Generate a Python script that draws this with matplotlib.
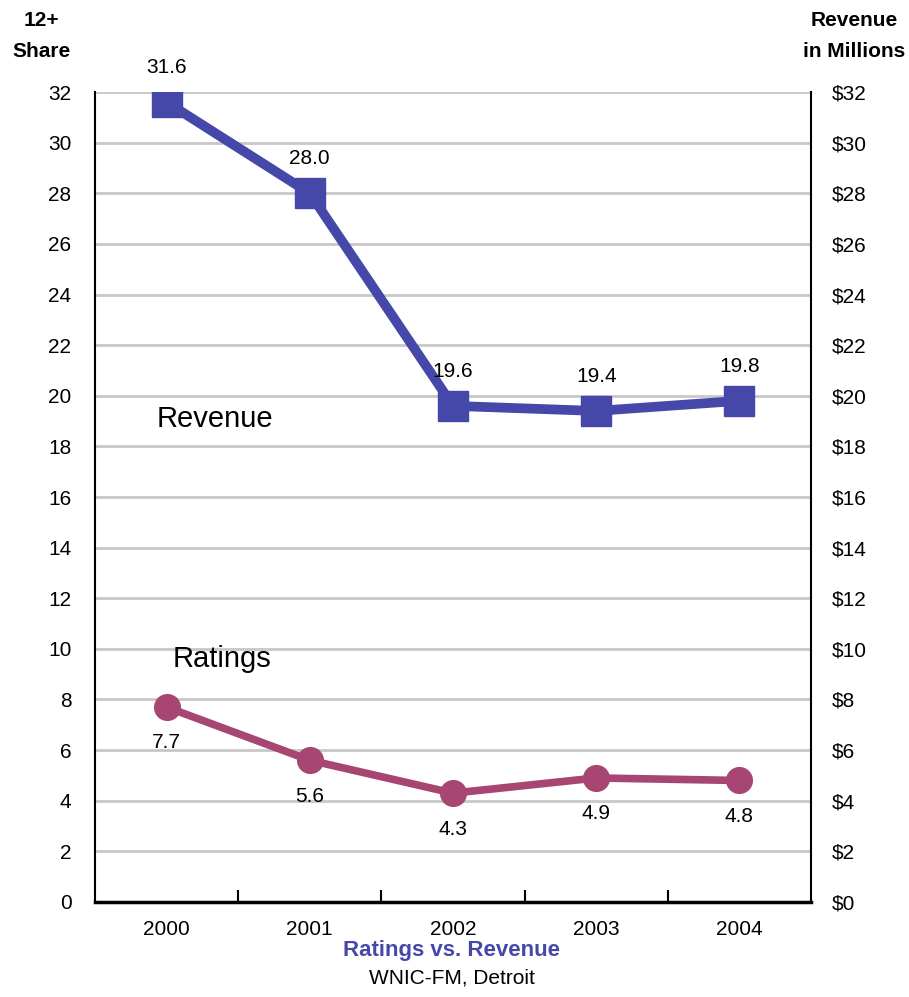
import matplotlib
matplotlib.use("Agg")
import matplotlib.pyplot as plt
from matplotlib import font_manager

years = ["2000", "2001", "2002", "2003", "2004"]
revenue = [31.6, 28.0, 19.6, 19.4, 19.8]
ratings = [7.7, 5.6, 4.3, 4.9, 4.8]
y_ticks = list(range(0, 33, 2))

# narrow sans if available, else regular
names = {f.name for f in font_manager.fontManager.ttflist}
if "Liberation Sans Narrow" in names:
    plt.rcParams["font.family"] = ["Liberation Sans Narrow", "DejaVu Sans"]
else:
    plt.rcParams["font.family"] = ["Liberation Sans", "DejaVu Sans"]

REV_COLOR = "#4547A9"
RAT_COLOR = "#A84673"
FS = 15

fig = plt.figure(figsize=(9.09, 9.97), dpi=100)
ax = fig.add_axes([0.1045, 0.0953, 0.7877, 0.8124])
x = list(range(len(years)))

ax.plot(x, revenue, color=REV_COLOR, lw=7, marker="s", ms=21,
        solid_joinstyle="miter", zorder=3)
ax.plot(x, ratings, color=RAT_COLOR, lw=5.5, marker="o", ms=18.5, zorder=3)

for xi, v in zip(x, revenue):
    ax.annotate(f"{v:.1f}", (xi, v), xytext=(0, 18), textcoords="offset points",
                ha="center", va="bottom", fontsize=FS)
for xi, v in zip(x, ratings):
    ax.annotate(f"{v:.1f}", (xi, v), xytext=(0, -19), textcoords="offset points",
                ha="center", va="top", fontsize=FS)

ax.text(0.34, 19.1, "Revenue", fontsize=21, ha="center", va="center")
ax.text(0.39, 9.6, "Ratings", fontsize=21, ha="center", va="center")

ax.set_xlim(-0.5, len(years) - 0.5)
ax.set_ylim(0, 32)
ax.set_yticks(y_ticks)
ax.set_yticklabels([str(t) for t in y_ticks], fontsize=FS)
ax.tick_params(axis="y", length=0, pad=17)
ax.set_xticks([i + 0.5 for i in range(len(years) - 1)])
ax.set_xticklabels([])
ax.set_xticks(x, minor=True)
ax.set_xticklabels(years, minor=True, fontsize=FS)
ax.tick_params(axis="x", which="major", direction="in", length=9, width=1.5)
ax.tick_params(axis="x", which="minor", length=0, pad=13)
ax.grid(axis="y", color="#c8c8c8", lw=2)
ax.set_axisbelow(True)
for side in ["left", "right"]:
    ax.spines[side].set_linewidth(1.5)
ax.spines["bottom"].set_linewidth(2.5)
ax.spines["top"].set_visible(False)

ax2 = ax.twinx()
ax2.set_ylim(0, 32)
ax2.set_yticks(y_ticks)
ax2.set_yticklabels([f"${t}" for t in y_ticks], fontsize=FS)
ax2.tick_params(axis="y", length=0, pad=15)
for s in ax2.spines.values():
    s.set_visible(False)

fig.text(0.046, 0.964, "12+\nShare", fontsize=15, fontweight="bold",
         ha="center", va="center", linespacing=1.75)
fig.text(0.94, 0.964, "Revenue\nin Millions", fontsize=15, fontweight="bold",
         ha="center", va="center", linespacing=1.75)
fig.text(0.497, 0.047, "Ratings vs. Revenue", fontsize=16, fontweight="bold",
         color=REV_COLOR, ha="center", va="center")
fig.text(0.497, 0.019, "WNIC-FM, Detroit", fontsize=15, ha="center", va="center")

fig.savefig("out.png", dpi=100)
